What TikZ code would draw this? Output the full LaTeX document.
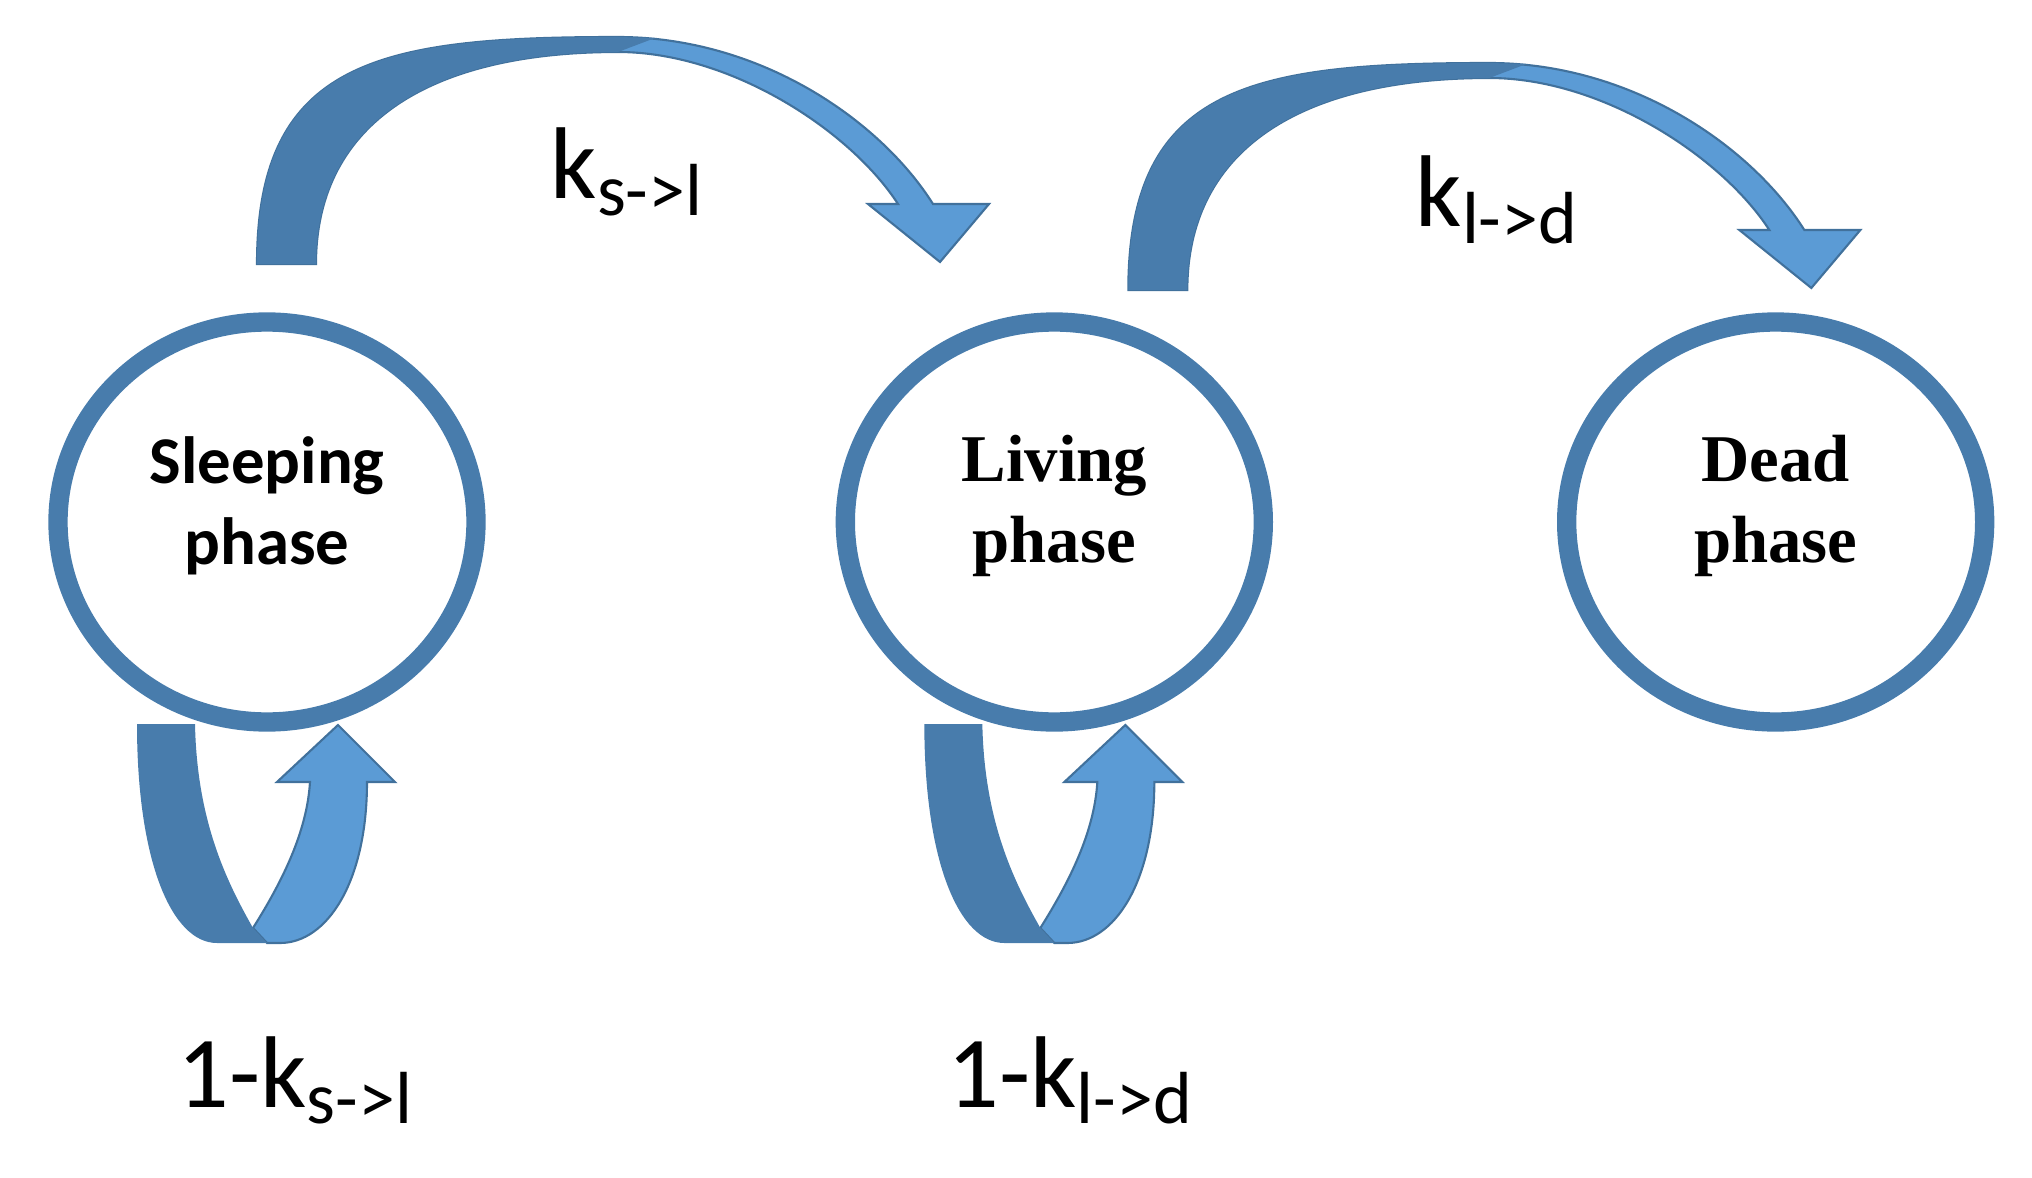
\documentclass[tikz,border=0pt]{standalone}
\usepackage{fontspec}
\usepackage{tikz}
\usetikzlibrary{shapes,positioning,calc}
\setmainfont{Carlito}
\newfontfamily\romanfont{Liberation Serif}
\definecolor{bandDark}{RGB}{72,124,172}
\definecolor{bandLight}{RGB}{91,155,213}
\definecolor{bandLine}{RGB}{65,113,156}
\newcommand{\krate}[1]{k\raisebox{-0.16cm}{\fontsize{21}{22}\selectfont #1}}

\begin{document}
\begin{tikzpicture}[
    phase/.style={ellipse, draw=bandDark, line width=5.5pt, minimum width=4.18cm, minimum height=4.0cm, inner sep=0pt},
    phasetext/.style={align=center, inner sep=0pt, font=\fontsize{19}{23}\selectfont\bfseries},
    serifphasetext/.style={phasetext, font=\fontsize{19}{23}\selectfont\bfseries\romanfont},
    rate/.style={anchor=base west, inner sep=0pt, font=\fontsize{29}{30}\selectfont},
    bend/.pic={
        \filldraw[fill=bandLight, draw=bandLine, line width=0.6pt] (0,0) .. controls (0,2.04) and (1.23,2.27) .. (3.61,2.27)
            .. controls (5.03,2.27) and (6.23,1.44) .. (6.76,0.60) -- (7.32,0.60) -- (6.83,0.02) -- (6.11,0.60) -- (6.41,0.60)
            .. controls (5.93,1.34) and (4.73,2.12) .. (3.61,2.12) .. controls (1.63,2.12) and (0.59,1.34) .. (0.59,0) -- cycle;
        \fill[bandDark] (0,0) .. controls (0,2.04) and (1.23,2.27) .. (3.61,2.27) -- (3.98,2.26) -- (3.61,2.12)
            .. controls (1.63,2.12) and (0.59,1.34) .. (0.59,0) -- cycle;
    },
    selfloop/.pic={
        \filldraw[fill=bandLight, draw=bandLine, line width=0.6pt] (0,-4.21) -- (0.13,-4.21) .. controls (0.60,-4.21) and (1.00,-3.60) .. (1.00,-2.60)
            -- (1.28,-2.60) -- (0.71,-2.03) -- (0.10,-2.60) -- (0.43,-2.60) .. controls (0.40,-3.10) and (0.15,-3.60) .. (-0.14,-4.06) -- cycle;
        \fill[bandDark] (-1.30,-2.02) .. controls (-1.30,-3.40) and (-0.95,-4.21) .. (-0.50,-4.21) -- (0,-4.21) -- (-0.14,-4.06)
            .. controls (-0.40,-3.60) and (-0.70,-3.00) .. (-0.72,-2.02) -- cycle;
    }
]
    \useasboundingbox (0,0) rectangle (20.32,-11.78);

    % phases
    \node[phase] (sleep) at (2.67,-5.22) {};
    \node[phase, right=3.50cm of sleep] (living) {};
    \node[phase, right=2.84cm of living] (dead) {};
    \node[phasetext] (sleeptext) at ([yshift=0.16cm]sleep.center) {Sleeping\\phase};
    \node[serifphasetext] (livingtext) at ([yshift=0.16cm]living.center) {Living\\phase};
    \node[serifphasetext] (deadtext) at ([yshift=0.16cm]dead.center) {Dead\\phase};

    % staying arrows
    \pic at (sleep.center) {selfloop};
    \pic at (living.center) {selfloop};

    % moving arrows
    \pic at ($(sleep.center)+(-0.10,2.58)$) {bend};
    \pic at ($(living.center)+(0.74,2.32)$) {bend};

    % rates
    \node[rate] (ksl) at (5.50,-1.99) {\krate{s->l}};
    \node[rate] (kld) at (14.15,-2.27) {\krate{l->d}};
    \node[rate] (stay1) at (1.77,-11.07) {1-\krate{s->l}};
    \node[rate] (stay2) at (9.47,-11.07) {1-\krate{l->d}};
\end{tikzpicture}
\end{document}
